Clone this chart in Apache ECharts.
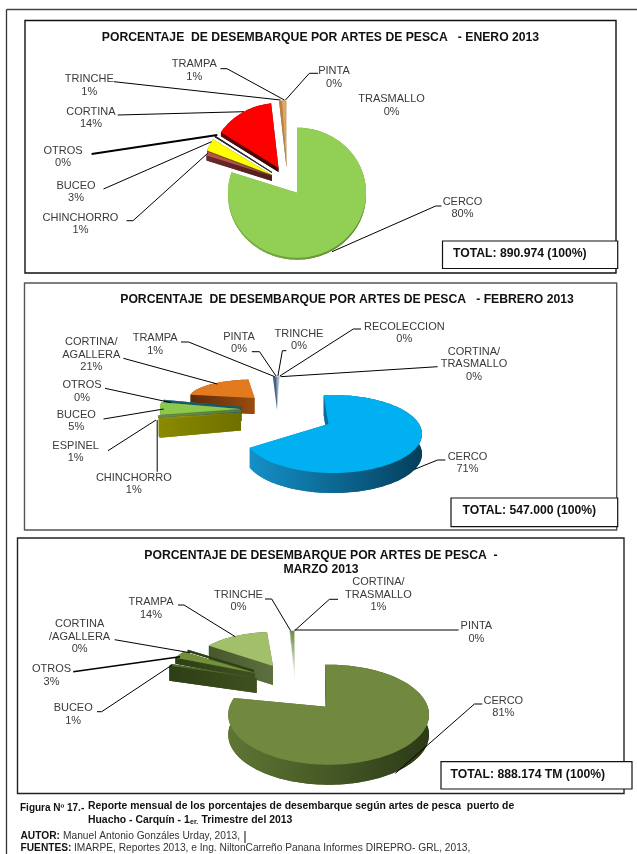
<!DOCTYPE html>
<html><head><meta charset="utf-8">
<style>html,body{margin:0;padding:0;background:#fff}#c{width:637px;height:854px}</style>
<script src="https://cdn.jsdelivr.net/npm/echarts@6/dist/echarts.min.js"></script>
</head><body><div id="c"></div>
<script>
// ---------- DATA ----------
const eneroTitle = 'PORCENTAJE  DE DESEMBARQUE POR ARTES DE PESCA   - ENERO 2013';
const eneroCategories = ['CERCO','CHINCHORRO','BUCEO','OTROS','CORTINA','TRINCHE','TRAMPA','PINTA','TRASMALLO'];
const eneroValues = [80,1,3,0.2,14,0.6,0.8,0.2,0.1];
const eneroTotal = 'TOTAL: 890.974 (100%)';

const febreroTitle = 'PORCENTAJE  DE DESEMBARQUE POR ARTES DE PESCA   - FEBRERO 2013';
const febreroCategories = ['CERCO','CHINCHORRO','ESPINEL','BUCEO','OTROS','CORTINA/\nAGALLERA','TRAMPA','PINTA','TRINCHE','RECOLECCION','CORTINA/\nTRASMALLO'];
const febreroValues = [70.9,0.9,0.9,5,0.2,20.6,0.8,0.2,0.2,0.2,0.1];
const febreroTotal = 'TOTAL: 547.000 (100%)';

const marzoTitle = 'PORCENTAJE DE DESEMBARQUE POR ARTES DE PESCA  -\nMARZO 2013';
const marzoCategories = ['CERCO','BUCEO','OTROS','CORTINA\n/AGALLERA','TRAMPA','TRINCHE','CORTINA/\nTRASMALLO','PINTA'];
const marzoValues = [81,1,3,0.2,13.6,0.1,0.9,0.2];
const marzoTotal = 'TOTAL: 888.174 TM (100%)';

// ---------- LAYOUT / STYLE ----------
const LH = 12.4;
const eneroLayout = [
 {a:[297,192.7],rx:69,ry:65,d:2,top:'#92cf55',side:['#7fb345','#5d8a2e'],z:90,lab:[462.5,202],line:[[441.5,206],[435.7,206],[332,251.7]]},
 {a:[272,176],rx:69,ry:65,d:5,top:'#b5544a',side:['#6a2a2a','#4f1d1d'],z:50,lab:[80.5,218],line:[[126.5,220.7],[133,220.7],[207.7,153.3]]},
 {a:[272,175],rx:70,ry:66,d:3,top:'#ffff00',side:['#6a5a10','#4f4810'],z:45,lab:[76,185.7],line:[[103.5,189],[211.6,141.7]]},
 {a:[272,172],rx:68,ry:66,d:1,top:'#1a1a30',side:['#222222','#222222'],z:40,lab:[63,151],lw:1.8,line:[[91.6,154],[217.3,135]]},
 {a:[278.5,168],rx:69,ry:65,d:4,top:'#ff0000',side:['#5c0b0b','#3a0606'],z:35,lab:[91,112],line:[[117.7,115],[244,111.7]]},
 {a:[286.5,166.5],rx:69,ry:66,d:1,top:'#c57f3a',side:['#8a7a55','#8a7a55'],z:30,lab:[89.3,79.3],line:[[113.9,81.7],[280.5,100]]},
 {a:[286.5,166.5],rx:69,ry:66,d:1,top:'#e0a860',side:['#8a7a55','#8a7a55'],z:28,lab:[194.3,64.3],line:[[220.4,68.7],[227,68.7],[284.4,100]]},
 {a:[286.5,166.5],rx:69,ry:66,d:0,top:'#b9a070',z:26,lab:[334,71.3],line:[[318,73.3],[309.3,73.3],[285.5,100]]},
 {a:[286.5,166.5],rx:69,ry:66,d:0,top:'#b9a070',z:24,lab:[391.6,99.3],line:null}
];
const febreroLayout = [
 {a:[328.4,424],c:[333,434],rot:-6,rx:89,ry:39,d:20,top:'#00b0f0',side:['#1490c8','#043f5c'],z:90,lab:[467.5,457],line:[[445.3,460],[437.6,460],[414.6,469.3]]},
 {a:[241,412.5],rx:84,ry:28,d:18,top:'#8f8a10',side:['#8a8a00','#6f6f00'],z:70,lab:[133.8,478],line:[[157.2,471.7],[157.2,420]]},
 {a:[241,410.5],rx:84,ry:34,d:1,top:'#6d8a3f',side:['#5f7f3a','#5f7f3a'],z:65,lab:[75.6,446],line:[[108,450.7],[156,420]]},
 {a:[240,409],rx:80,ry:40,d:1,top:'#8cc84b',side:['#5f7f3a','#5f7f3a'],z:60,lab:[76.3,415],line:[[103.5,419],[163.7,409]]},
 {a:[241.5,407],rx:79,ry:40,d:14,top:'#1f6f80',side:['#17596a','#17596a'],z:55,lab:[82,385.3],line:[[105,388.3],[171.3,402.7]]},
 {a:[254.5,398],rx:65,ry:18.5,d:16,top:'#e47a1e',side:['#5c2c08','#9a4c10'],z:30,lab:[91.3,342.3],line:[[123.4,358.3],[217.3,384]]},
 {a:[277,410],c:[280,410],rx:76,ry:33.5,d:0,top:'#46618a',z:28,lab:[155.2,338.3],line:[[181,342],[188.6,342],[274.8,376.7]]},
 {a:[277,410],c:[280,410],rx:76,ry:33.5,d:0,top:'#8e9cb2',z:26,lab:[239,336.7],line:[[251.8,351.7],[259.5,351.7],[276,376]]},
 {a:[277,410],c:[280,410],rx:76,ry:33.5,d:0,top:'#5f7aa0',z:24,lab:[299,334],line:[[286.3,350.7],[282.4,350.7],[277.9,376]]},
 {a:[277,410],c:[280,410],rx:76,ry:33.5,d:0,top:'#c8d2dc',z:22,lab:[404.3,326.7],line:[[361,329],[353.3,329],[279.8,376]]},
 {a:[277,410],c:[280,410],rx:76,ry:33.5,d:0,top:'#e0e5ea',z:20,lab:[474,351.7],line:[[437.6,366.7],[280.5,376.7]]}
];
const marzoLayout = [
 {a:[326.2,706.7],c:[328.6,714.7],rot:-2,rx:100.4,ry:50,d:20,top:'#71893f',side:['#5f7634','#2c3a17'],z:90,lab:[503.3,700.7],line:[[482.3,704],[474.4,704],[395.4,773.3]]},
 {a:[256.7,678],rx:94,ry:33,d:15,top:'#4f6a29',side:['#2e3e16','#3f5020'],z:70,lab:[73.2,708.3],line:[[97,711.7],[101.7,711.7],[172,665]]},
 {a:[255,673],rx:88,ry:36,d:6,top:'#72903c',side:['#2e3e16','#3f5020'],z:60,lab:[51.5,669.3],lw:1.5,line:[[73.2,671.7],[180,656.7]]},
 {a:[254,670],rx:82,ry:34,d:2,top:'#43571f',side:['#2e3e16','#2e3e16'],z:55,lab:[79.6,624.3],line:[[114.7,639.7],[189.8,652.7]]},
 {a:[273,666],rx:80,ry:34,d:19,top:'#a2c06a',side:['#47572c','#5d7040'],z:30,lab:[151,602.3],line:[[178,605],[184,605],[235.3,636.7]]},
 {a:[295,681.7],rx:73,ry:51,d:0,top:'#8fa86a',fade:true,z:28,lab:[238.5,595],line:[[265,599],[271.7,599],[290.6,630.7]]},
 {a:[295,681.7],rx:73,ry:51,d:0,top:'#6f8a48',fade:true,z:26,lab:[378.4,582.3],line:[[338,599.3],[329.4,599.3],[294.6,630.7]]},
 {a:[295,681.7],rx:73,ry:51,d:0,top:'#c4d6a6',fade:true,z:24,lab:[476.4,626.3],line:[[458.6,630],[294.6,630]]}
];

const FONT = '"Liberation Sans", Arial, sans-serif';

function arcPoints(l, a0, a1) {
  const c = l.c || l.a, rot = l.rot || 0, pts = [];
  const n = Math.max(2, Math.ceil((a1 - a0) / 2));
  for (let i = 0; i <= n; i++) {
    const t = (a0 + (a1 - a0) * i / n + rot) * Math.PI / 180;
    pts.push([c[0] + l.rx * Math.sin(t), c[1] - l.ry * Math.cos(t)]);
  }
  return pts;
}
const down = (p, d) => [p[0], p[1] + d];

function makeSeries(name, categories, values, layout) {
  const total = values.reduce((s, v) => s + v, 0);
  return {
    type: 'custom', name, coordinateSystem: 'none', silent: true, z: 2,
    data: categories.map((c, i) => ({ name: c, value: [i, values[i]] })),
    renderItem(params, api) {
      const i = api.value(0), l = layout[i];
      let before = 0;
      for (let k = 0; k < i; k++) before += values[k];
      const a0 = before / total * 360, a1 = a0 + api.value(1) / total * 360;
      const arc = arcPoints(l, a0, a1);
      const pts = [l.a].concat(arc);
      const children = [];
      if (l.d > 0) {
        const xs = pts.map(p => p[0]);
        const x0 = Math.min(...xs), x1 = Math.max(...xs);
        const side = new echarts.graphic.LinearGradient(x0, 0, Math.max(x1, x0 + 1), 0, [
          { offset: 0, color: l.side[0] }, { offset: 1, color: l.side[1] }], true);
        const last = arc[arc.length - 1];
        const walls = [
          pts.map(p => down(p, l.d)),
          arc.concat(arc.slice().reverse().map(p => down(p, l.d))),
          [l.a, arc[0], down(arc[0], l.d), down(l.a, l.d)],
          [l.a, last, down(last, l.d), down(l.a, l.d)]
        ];
        walls.forEach(points => children.push({ type: 'polygon', z2: l.z, shape: { points },
          style: { fill: side, stroke: null } }));
      }
      const fill = l.fade ? new echarts.graphic.LinearGradient(0, 0, 0, 1, [
        { offset: 0, color: l.top }, { offset: 1, color: '#ffffff' }]) : l.top;
      children.push({ type: 'polygon', z2: l.z + 0.5, shape: { points: pts }, style: { fill, stroke: null } });
      if (l.line) children.push({ type: 'polyline', z2: 100, shape: { points: l.line },
        style: { stroke: '#000', lineWidth: l.lw || 1, fill: null } });
      const rows = categories[i].split('\n').concat(Math.round(api.value(1)) + '%');
      rows.forEach((t, r) => children.push({ type: 'text', z2: 101,
        style: { x: l.lab[0], y: l.lab[1] + r * LH, text: t, fill: '#3a3a3a', font: '11px ' + FONT,
          textAlign: 'center', textVerticalAlign: 'middle' } }));
      return { type: 'group', children };
    }
  };
}

function txt(x, y, text, font, extra, scaleX) {
  return { type: 'text', z: 5, silent: true, x, y, scaleX: scaleX || 1,
    style: Object.assign({ x: 0, y: 0, text, font, fill: '#111',
      textAlign: 'left', textVerticalAlign: 'middle' }, extra || {}) };
}
function rect(x0, y0, x1, y1, stroke, lw, z) {
  return { type: 'rect', z: z || 0, silent: true, shape: { x: x0, y: y0, width: x1 - x0, height: y1 - y0 },
    style: { fill: '#fff', stroke, lineWidth: lw } };
}
function vline(x, y0, y1, stroke, lw) {
  return { type: 'line', z: 5, silent: true, shape: { x1: x, y1: y0, x2: x, y2: y1 }, style: { stroke, lineWidth: lw } };
}
const titleFont = 'bold 12.2px ' + FONT, totalFont = 'bold 12.2px ' + FONT;
const capFont = 'bold 11.5px ' + FONT, small = '10.2px ' + FONT, smallB = 'bold 10.2px ' + FONT;
const center = { textAlign: 'center' };
const SX = 0.905;

const graphics = [
  { type: 'line', z: 0, silent: true, shape: { x1: 6.5, y1: 9.5, x2: 637, y2: 9.5 }, style: { stroke: '#444', lineWidth: 1.3 } },
  vline(6.5, 9.5, 854, '#333', 1.3),
  rect(25, 20.5, 616, 273, '#111', 1.4),
  rect(24.5, 283, 616.7, 530, '#555', 1.4),
  rect(17.5, 538, 624, 793.5, '#222', 1.4),
  rect(442.5, 241, 617.7, 268.5, '#111', 1.2, 1),
  rect(451, 498, 617.7, 526.7, '#111', 1.2, 1),
  rect(441, 761.7, 632, 789, '#111', 1.2, 1),
  txt(320.5, 38, eneroTitle, titleFont, center),
  txt(347, 300, febreroTitle, titleFont, center),
  txt(321, 555.5, marzoTitle.split('\n')[0], titleFont, center),
  txt(321, 570, marzoTitle.split('\n')[1], titleFont, center),
  txt(453, 253.5, eneroTotal, totalFont),
  txt(462.5, 511, febreroTotal, totalFont),
  txt(450.5, 775, marzoTotal, totalFont),
  txt(20, 808, 'Figura Nº 17.-', 'bold 10px ' + FONT),
  txt(88, 806, 'Reporte mensual de los porcentajes de desembarque según artes de pesca  puerto de', capFont, null, SX),
  txt(88, 820, 'Huacho - Carquín - 1', capFont, null, SX),
  txt(190, 822, 'er.', 'bold 7px ' + FONT),
  txt(201.5, 820, 'Trimestre del 2013', capFont, null, SX),
  txt(20.5, 836.5, 'AUTOR:', smallB),
  txt(63, 836.5, 'Manuel Antonio Gonzáles Urday, 2013,', small, { fill: '#333' }),
  txt(20.5, 848, 'FUENTES:', smallB),
  txt(74, 848, 'IMARPE, Reportes 2013, e Ing. NiltonCarreño Panana Informes DIREPRO- GRL, 2013,', small, { fill: '#333' }),
  vline(245, 831, 843, '#111', 1)
];

const chart = echarts.init(document.getElementById('c'), null, { renderer: 'canvas' });
chart.setOption({
  animation: false,
  backgroundColor: '#fff',
  graphic: { elements: graphics },
  series: [
    makeSeries('Enero 2013', eneroCategories, eneroValues, eneroLayout),
    makeSeries('Febrero 2013', febreroCategories, febreroValues, febreroLayout),
    makeSeries('Marzo 2013', marzoCategories, marzoValues, marzoLayout)
  ]
});
</script></body></html>
